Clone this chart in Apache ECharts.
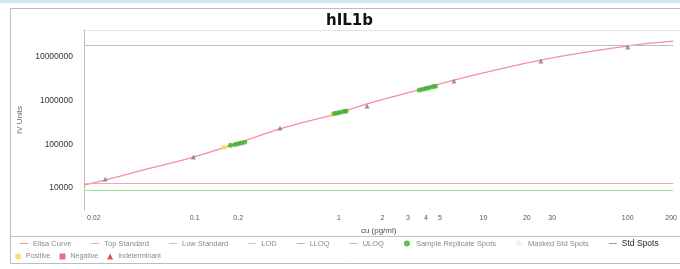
<!DOCTYPE html>
<html>
<head>
<meta charset="utf-8">
<script src="https://cdn.jsdelivr.net/npm/echarts@6/dist/echarts.min.js"></script>
<style>
  html, body { margin: 0; padding: 0; background: #fff; }
  #chart { width: 680px; height: 269px; }
</style>
</head>
<body>
<div id="chart"></div>
<script>
// 坐标轴刻度
const xTicks = [0.02, 0.1, 0.2, 1, 2, 3, 4, 5, 10, 20, 30, 100, 200];
const yTicks = [10000, 100000, 1000000, 10000000];

// 拟合曲线
const curveX = [0.0171, 0.024, 0.05, 0.098, 0.2, 0.39, 1, 1.5625, 4, 6.25, 25, 100, 207];
const curveY = [11700, 15200, 28700, 51000, 107000, 225000, 521000, 840000, 1950000, 2950000, 8500000, 17800000, 23000000];

// 标准品点
const stdX = [0.024, 0.098, 0.39, 1.5625, 6.25, 25, 100];
const stdY = [16000, 51000, 237000, 755000, 2800000, 8100000, 16900000];

// 样本重复点
const sampleX = [0.177, 0.19, 0.2, 0.21, 0.222, 0.93, 0.97, 1.02, 1.08, 1.12, 3.6, 3.8, 4.0, 4.2, 4.45, 4.65];
const sampleY = [95000, 99000, 103000, 107000, 111000, 505000, 520000, 540000, 562000, 580000, 1750000, 1830000, 1900000, 1980000, 2070000, 2150000];

// 阳性点
const posX = [0.16, 0.9];
const posY = [86000, 480000];

// 参考线
const topStandard = 18800000;
const lowStandard = 13000;
const lod = 8800;

const pair = (xs, ys) => xs.map((x, i) => [x, ys[i]]);

const chart = echarts.init(document.getElementById('chart'), null, { renderer: 'canvas' });

const hLine = (name, color, value) => ({
    name,
    type: 'line',
    symbol: 'none',
    data: [],
    lineStyle: { color, width: 1 },
    itemStyle: { color },
    markLine: {
        silent: true,
        symbol: 'none',
        label: { show: false },
        lineStyle: { color, width: 1.2, type: 'solid' },
        data: value == null ? [] : [{ yAxis: value }]
    }
});

// 图例里的细线图标
const LINE_ICON = 'path://M0,0L10,0L10,1.2L0,1.2Z';
const lineItem = name => ({ name, icon: LINE_ICON });

const legendText = { fontSize: 7.5, color: '#8a8a8a', fontFamily: 'Liberation Sans' };

chart.setOption({
    animation: false,
    backgroundColor: '#fff',
    title: {
        text: 'hIL1b',
        left: 321,
        top: 9,
        textStyle: { fontSize: 15, fontWeight: 'bold', color: '#111', fontFamily: 'DejaVu Sans' }
    },
    graphic: [
        { type: 'rect', shape: { x: 0, y: 0, width: 680, height: 3 }, style: { fill: '#d3e4f1' } },
        { type: 'rect', shape: { x: 10.5, y: 8.5, width: 680, height: 255 }, style: { fill: 'none', stroke: '#bdbdbd', lineWidth: 1 } },
        { type: 'line', shape: { x1: 10, y1: 236.5, x2: 680, y2: 236.5 }, style: { stroke: '#c4c4c4', lineWidth: 1 } },
        { type: 'line', shape: { x1: 84, y1: 30.5, x2: 680, y2: 30.5 }, style: { stroke: '#e2e2e2', lineWidth: 1 } }
    ],
    legend: [
        {
            left: 20,
            top: 239,
            padding: 0,
            itemWidth: 8,
            itemHeight: 6,
            itemGap: 20,
            textStyle: legendText,
            data: [lineItem('Elisa Curve'), lineItem('Top Standard'), lineItem('Low Standard'),
                lineItem('LOD'), lineItem('LLOQ'), lineItem('ULOQ'),
                'Sample Replicate Spots', 'Masked Std Spots',
                { name: 'Std Spots', icon: LINE_ICON, textStyle: { color: '#222', fontSize: 8.5 } }]
        },
        {
            left: 15,
            top: 253,
            padding: 0,
            itemWidth: 6,
            itemHeight: 6,
            itemGap: 9,
            textStyle: { ...legendText, fontSize: 7 },
            data: ['Positive', 'Negative', 'Indeterminant']
        }
    ],
    grid: { left: 84, top: 30, right: 0, bottom: 59 },
    xAxis: {
        type: 'log',
        min: 0.0171,
        max: 207,
        name: 'cu (pg/ml)',
        nameLocation: 'middle',
        nameGap: 12,
        nameTextStyle: { fontSize: 8, color: '#44505c', fontFamily: 'Liberation Sans' },
        axisLine: { show: false },
        axisTick: { show: false },
        splitLine: { show: false },
        axisLabel: {
            customValues: xTicks,
            fontSize: 7,
            color: '#555',
            margin: 5,
            fontFamily: 'Liberation Sans',
            formatter: v => String(+v.toPrecision(3))
        }
    },
    yAxis: {
        type: 'log',
        min: 3130,
        max: 41500000,
        name: 'IV Units',
        nameLocation: 'middle',
        nameGap: 6,
        nameRotate: 90,
        nameTextStyle: { fontSize: 8, color: '#5d6d78', fontFamily: 'Liberation Sans', padding: [12, 0, 0, 0] },
        axisLine: { show: true, lineStyle: { color: '#bdbdbd', width: 1 } },
        axisTick: { show: false },
        splitLine: { show: false },
        axisLabel: {
            customValues: yTicks,
            fontSize: 8.5,
            color: '#333',
            margin: 11,
            fontFamily: 'Liberation Sans',
            formatter: v => String(Math.round(v))
        }
    },
    series: [
        {
            name: 'Elisa Curve',
            type: 'line',
            smooth: 0.4,
            symbol: 'none',
            data: pair(curveX, curveY),
            lineStyle: { color: '#f3909f', width: 1.3 },
            itemStyle: { color: '#f3909f' },
            z: 3
        },
        hLine('Top Standard', '#bdbdbd', topStandard),
        hLine('Low Standard', '#f2a7b6', lowStandard),
        hLine('LOD', '#9fe09a', lod),
        hLine('LLOQ', '#b8b8b8', null),
        hLine('ULOQ', '#b8b8b8', null),
        {
            name: 'Sample Replicate Spots',
            type: 'scatter',
            symbol: 'circle',
            symbolSize: 5,
            data: pair(sampleX, sampleY),
            itemStyle: { color: '#38b02a' },
            z: 5
        },
        {
            name: 'Masked Std Spots',
            type: 'scatter',
            symbolSize: 5,
            data: [],
            itemStyle: { color: '#eeeeee' }
        },
        {
            name: 'Std Spots',
            type: 'scatter',
            symbol: 'triangle',
            symbolSize: 5,
            data: pair(stdX, stdY),
            itemStyle: { color: '#7d7d7d' },
            z: 6
        },
        {
            name: 'Positive',
            type: 'scatter',
            symbol: 'circle',
            symbolSize: 5,
            data: pair(posX, posY),
            itemStyle: { color: '#f7d94c' },
            z: 4
        },
        {
            name: 'Negative',
            type: 'scatter',
            symbol: 'rect',
            symbolSize: 5,
            data: [],
            itemStyle: { color: '#e8457a' }
        },
        {
            name: 'Indeterminant',
            type: 'scatter',
            symbol: 'triangle',
            symbolRotate: 180,
            symbolSize: 6,
            data: [],
            itemStyle: { color: '#d9262c' }
        }
    ]
});

window.addEventListener('resize', () => chart.resize());
</script>
</body>
</html>
